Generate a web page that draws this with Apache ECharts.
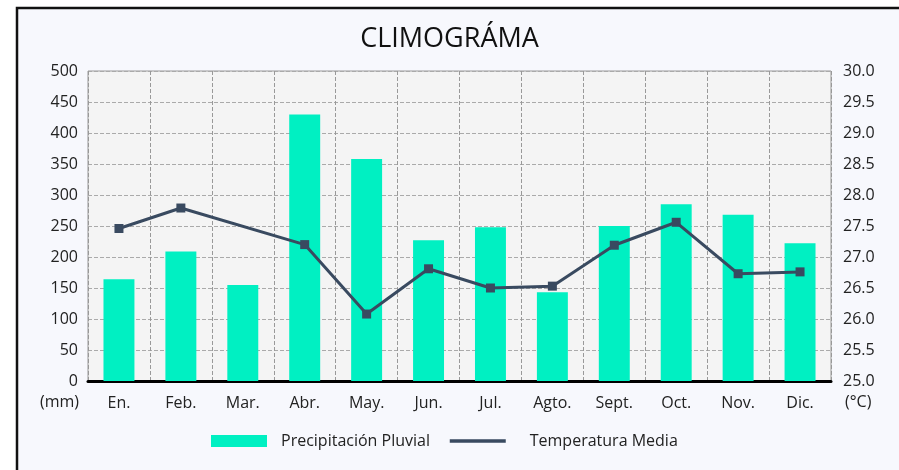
<!DOCTYPE html>
<html>
<head>
<meta charset="utf-8">
<script src="https://cdn.jsdelivr.net/npm/echarts@6/dist/echarts.min.js"></script>
<style>
    html, body { margin: 0; padding: 0; background: #fff; overflow: hidden; }
    #climograma { width: 899px; height: 470px; }
</style>
</head>
<body>
<div id="climograma"></div>
<script>
var months = ['En.', 'Feb.', 'Mar.', 'Abr.', 'May.', 'Jun.', 'Jul.', 'Agto.', 'Sept.', 'Oct.', 'Nov.', 'Dic.'];
var precipitacion = [164, 209, 155, 430, 358, 227, 248, 143, 250, 285, 268, 222];
var temperatura = [27.46, 27.79, null, 27.2, 26.08, 26.81, 26.5, 26.53, 27.19, 27.56, 26.73, 26.76];

var chart = echarts.init(document.getElementById('climograma'));

var labelFont = '"Open Sans", "Noto Sans", sans-serif';

var option = {
    backgroundColor: '#f7f8fd',
    textStyle: { fontFamily: labelFont },
    title: {
        text: 'CLIMOGRÁMA',
        left: 'center',
        top: 21,
        textStyle: {
            fontFamily: labelFont,
            fontSize: 27,
            fontWeight: 'normal',
            color: '#111'
        }
    },
    graphic: [
        // white margin outside the frame, left and top
        {
            type: 'rect',
            silent: true,
            shape: { x: 0, y: 0, width: 17, height: 470 },
            style: { fill: '#fff' }
        },
        {
            type: 'rect',
            silent: true,
            shape: { x: 0, y: 0, width: 899, height: 8 },
            style: { fill: '#fff' }
        },
        {
            type: 'polyline',
            silent: true,
            shape: { points: [[17, 470], [17, 8], [899, 8]] },
            style: { stroke: '#111', lineWidth: 2.5, fill: null }
        },
        {
            type: 'text',
            left: 40,
            top: 394,
            style: { text: '(mm)', fontSize: 16, fill: '#222', fontFamily: labelFont }
        },
        {
            type: 'text',
            left: 845,
            top: 394,
            style: { text: '(°C)', fontSize: 16, fill: '#222', fontFamily: labelFont }
        }
    ],
    legend: {
        bottom: 16,
        left: 206,
        itemWidth: 56,
        itemHeight: 12,
        itemGap: 18,
        textStyle: { fontSize: 16, color: '#222', fontFamily: labelFont },
        data: [
            {
                name: 'Precipitación Pluvial',
                icon: 'rect',
                textStyle: { padding: [0, 0, 0, 9] }
            },
            {
                name: 'Temperatura Media',
                itemStyle: { opacity: 0 },
                lineStyle: { width: 3.5 },
                textStyle: { padding: [0, 0, 0, 19] }
            }
        ]
    },
    grid: {
        left: 88,
        right: 68,
        top: 71,
        bottom: 89,
        show: true,
        backgroundColor: '#f4f4f4',
        borderColor: '#999',
        borderWidth: 1
    },
    xAxis: {
        type: 'category',
        data: months,
        axisLine: { lineStyle: { color: '#000', width: 3 } },
        axisTick: { show: false },
        axisLabel: { fontSize: 16, color: '#222', margin: 14 },
        splitLine: {
            show: true,
            lineStyle: { color: '#999', type: 'dashed' }
        }
    },
    yAxis: [
        {
            type: 'value',
            min: 0,
            max: 500,
            interval: 50,
            axisLine: { show: false },
            axisTick: { show: false },
            axisLabel: { fontSize: 16, color: '#222', margin: 10 },
            splitLine: { lineStyle: { color: '#aaa', type: 'dashed' } }
        },
        {
            type: 'value',
            min: 25,
            max: 30,
            interval: 0.5,
            axisLine: { show: false },
            axisTick: { show: false },
            axisLabel: {
                fontSize: 16,
                color: '#222',
                margin: 12,
                formatter: function (v) { return v.toFixed(1); }
            },
            splitLine: { show: false }
        }
    ],
    series: [
        {
            name: 'Precipitación Pluvial',
            type: 'bar',
            data: precipitacion,
            barWidth: '50%',
            itemStyle: { color: '#00f0c2' }
        },
        {
            name: 'Temperatura Media',
            type: 'line',
            yAxisIndex: 1,
            data: temperatura,
            connectNulls: true,
            symbol: 'rect',
            symbolSize: 9,
            lineStyle: { color: '#394a60', width: 3 },
            itemStyle: { color: '#394a60' }
        }
    ]
};

chart.setOption(option);
</script>
</body>
</html>
